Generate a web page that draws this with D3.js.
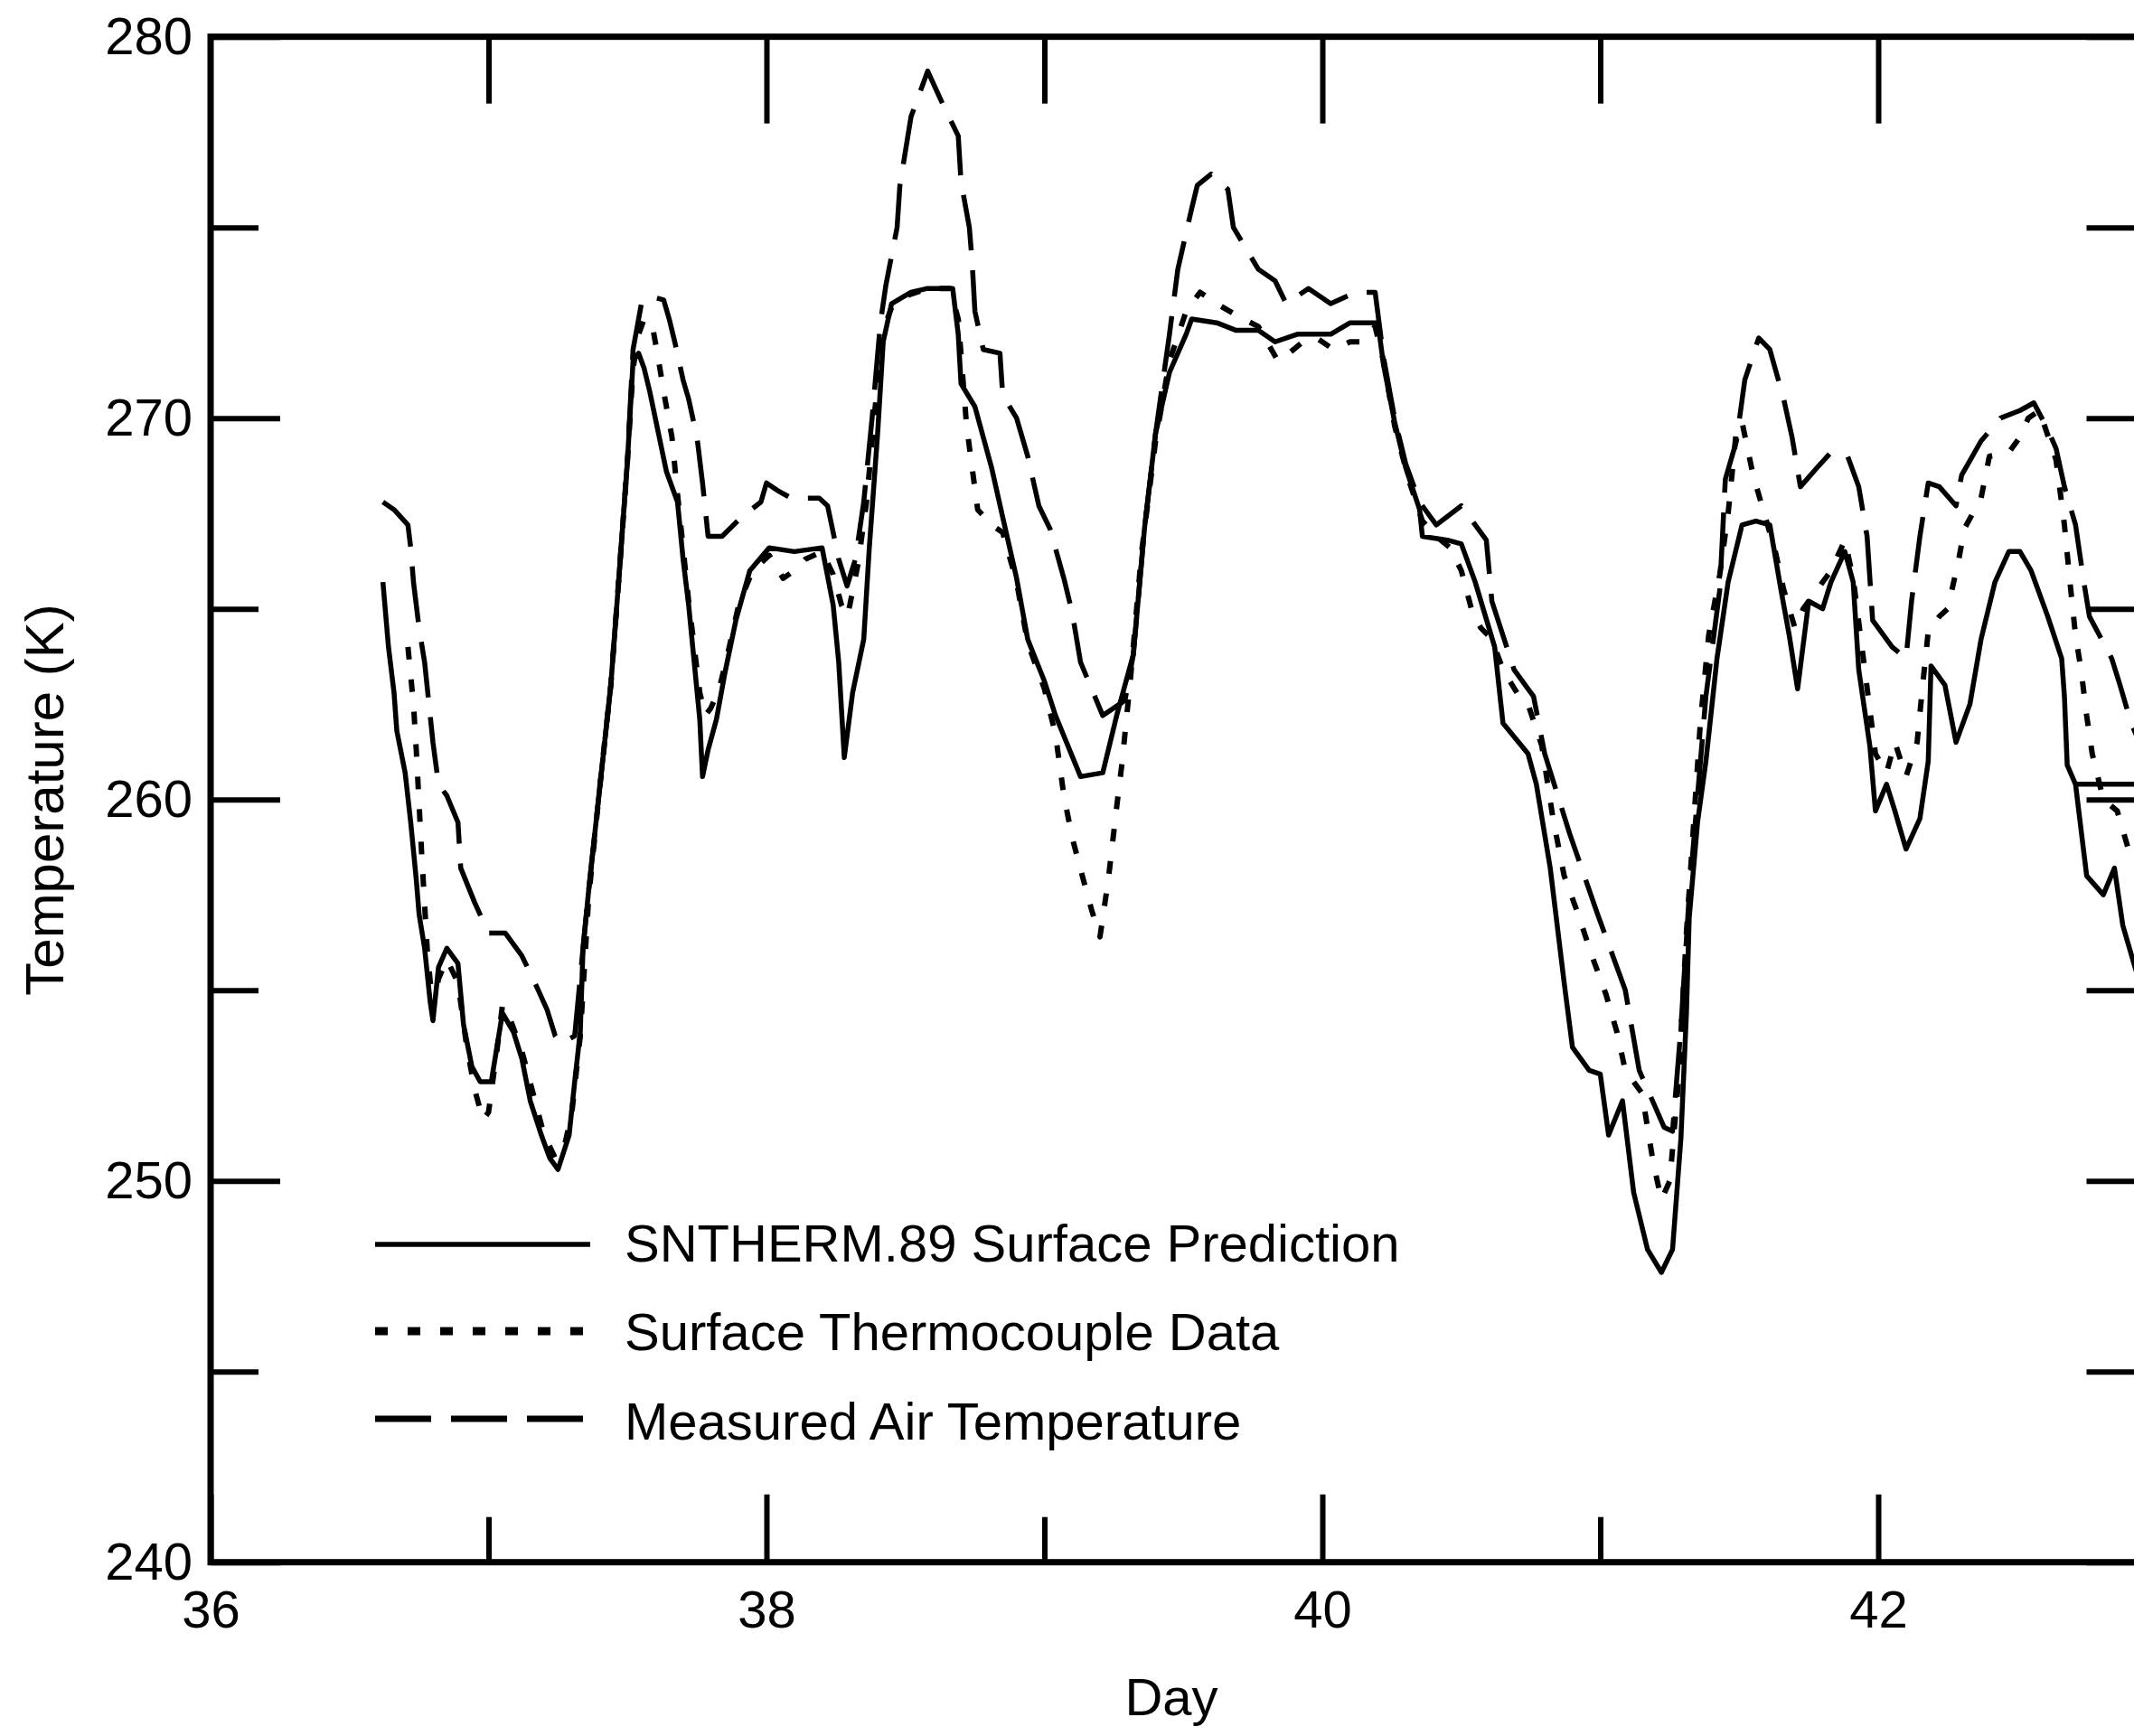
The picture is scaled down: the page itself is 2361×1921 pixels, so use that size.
<!DOCTYPE html>
<html>
<head>
<meta charset="utf-8">
<script src="https://cdn.jsdelivr.net/npm/d3@7"></script>
<style>
  html, body { margin: 0; padding: 0; background: #fff; }
  svg { display: block; }
  text { font-family: "Liberation Sans", Arial, Helvetica, sans-serif; fill: #000; }
</style>
</head>
<body>
<svg id="chart" width="2361" height="1921"></svg>
<script>
// ---------------- data (day, temperature K) ----------------
const snthermPrediction = [
  [36.62,265.7],[36.64,264.0],[36.66,262.8],[36.67,261.8],[36.70,260.7],[36.72,259.4],[36.74,257.9],[36.75,257.0],
  [36.77,256.1],[36.79,254.7],[36.80,254.2],[36.82,255.6],[36.85,256.1],[36.89,255.7],[36.91,254.1],[36.94,253.0],
  [36.97,252.6],[37.01,252.6],[37.03,253.5],[37.05,254.4],[37.09,253.9],[37.12,253.2],[37.15,252.1],[37.19,251.2],
  [37.22,250.6],[37.25,250.3],[37.29,251.2],[37.31,252.6],[37.33,253.9],[37.34,256.1],[37.36,257.6],[37.40,260.3],
  [37.44,263.0],[37.47,265.9],[37.50,268.9],[37.52,271.5],[37.54,271.7],[37.56,271.3],[37.58,270.7],[37.64,268.6],
  [37.68,267.8],[37.70,266.3],[37.72,265.1],[37.74,263.6],[37.76,262.1],[37.77,260.6],[37.79,261.3],[37.82,262.1],
  [37.85,263.3],[37.89,264.7],[37.94,266.0],[38.01,266.6],[38.10,266.5],[38.20,266.6],[38.24,265.1],[38.26,263.6],
  [38.28,261.1],[38.31,262.8],[38.35,264.2],[38.37,266.6],[38.40,269.6],[38.42,272.0],[38.45,273.0],[38.52,273.3],
  [38.58,273.4],[38.67,273.4],[38.69,272.2],[38.70,270.9],[38.75,270.3],[38.81,268.7],[38.85,267.4],[38.90,265.8],
  [38.94,264.2],[39.00,263.1],[39.04,262.2],[39.13,260.6],[39.21,260.7],[39.26,262.2],[39.32,263.8],[39.36,267.1],
  [39.40,269.6],[39.45,271.2],[39.51,272.2],[39.53,272.6],[39.62,272.5],[39.69,272.3],[39.77,272.3],[39.83,272.0],
  [39.91,272.2],[40.03,272.2],[40.10,272.5],[40.20,272.5],[40.22,271.4],[40.26,269.9],[40.30,268.7],[40.35,267.6],
  [40.36,266.9],[40.45,266.8],[40.50,266.7],[40.55,265.7],[40.62,264.0],[40.65,262.0],[40.74,261.2],[40.77,260.4],
  [40.82,258.2],[40.87,255.2],[40.90,253.5],[40.96,252.9],[41.00,252.8],[41.03,251.2],[41.08,252.1],[41.12,249.7],
  [41.17,248.2],[41.22,247.6],[41.26,248.2],[41.29,251.1],[41.31,254.4],[41.32,256.9],[41.35,259.4],[41.38,261.0],
  [41.42,263.7],[41.46,265.7],[41.51,267.2],[41.56,267.3],[41.61,267.2],[41.65,265.5],[41.68,264.3],[41.71,262.9],
  [41.75,265.2],[41.80,265.0],[41.83,265.7],[41.88,266.5],[41.91,265.7],[41.93,263.4],[41.97,261.4],[41.99,259.7],
  [42.03,260.4],[42.06,259.7],[42.10,258.7],[42.15,259.5],[42.18,261.0],[42.19,263.5],[42.24,263.0],[42.28,261.5],
  [42.33,262.5],[42.37,264.2],[42.42,265.7],[42.47,266.5],[42.51,266.5],[42.55,266.0],[42.61,264.8],[42.66,263.7],
  [42.67,262.7],[42.68,260.9],[42.71,260.4],[42.75,258.0],[42.81,257.5],[42.85,258.2],[42.88,256.7],[42.92,255.7],
  [42.97,254.5]
];

const thermocoupleData = [
  [36.71,264.0],[36.73,262.5],[36.74,261.3],[36.76,258.5],[36.78,256.0],[36.80,254.5],[36.82,255.3],[36.85,255.8],
  [36.89,255.2],[36.92,253.6],[36.95,252.4],[36.98,251.6],[37.00,251.8],[37.03,253.4],[37.05,254.6],[37.08,254.2],
  [37.12,253.4],[37.16,252.3],[37.20,251.2],[37.24,250.6],[37.27,250.8],[37.30,251.8],[37.33,253.8],[37.36,257.4],
  [37.40,260.3],[37.44,263.0],[37.47,265.9],[37.50,268.9],[37.52,271.3],[37.54,272.2],[37.56,272.6],[37.59,272.4],
  [37.61,271.6],[37.63,270.7],[37.66,269.5],[37.68,268.0],[37.70,266.6],[37.72,265.2],[37.74,264.0],[37.76,262.8],
  [37.78,262.2],[37.80,262.4],[37.83,262.9],[37.86,263.8],[37.90,265.1],[37.95,266.0],[38.01,266.4],[38.06,265.8],
  [38.10,266.0],[38.14,266.3],[38.20,266.5],[38.24,265.9],[38.27,265.1],[38.29,264.8],[38.30,265.1],[38.33,266.2],
  [38.36,267.8],[38.39,270.2],[38.42,272.3],[38.45,272.9],[38.50,273.2],[38.58,273.4],[38.66,273.4],[38.69,272.6],
  [38.72,269.8],[38.74,268.7],[38.76,267.6],[38.81,267.2],[38.85,267.0],[38.90,265.7],[38.94,264.1],[39.00,262.9],
  [39.04,261.7],[39.07,260.1],[39.10,259.0],[39.14,257.9],[39.17,257.1],[39.20,256.4],[39.23,257.9],[39.26,259.8],
  [39.28,261.0],[39.31,263.2],[39.35,266.5],[39.40,269.4],[39.45,271.5],[39.51,272.8],[39.56,273.3],[39.62,273.0],
  [39.69,272.7],[39.77,272.4],[39.84,271.5],[39.88,271.7],[39.93,272.0],[39.98,272.1],[40.04,271.8],[40.10,272.0],
  [40.14,272.0],[40.19,272.4],[40.22,271.5],[40.26,269.8],[40.31,268.4],[40.36,267.3],[40.41,266.9],[40.46,266.6],
  [40.50,266.0],[40.54,264.9],[40.57,264.5],[40.61,264.2],[40.65,263.4],[40.70,262.8],[40.74,262.5],[40.79,261.4],
  [40.83,259.5],[40.87,258.0],[40.92,257.0],[40.97,255.9],[41.02,254.9],[41.06,253.9],[41.09,252.9],[41.15,252.3],
  [41.19,250.5],[41.22,249.5],[41.25,250.0],[41.28,252.5],[41.31,256.5],[41.36,262.0],[41.39,264.3],[41.43,265.9],
  [41.46,267.5],[41.49,269.7],[41.51,269.9],[41.55,268.5],[41.59,267.5],[41.63,266.5],[41.66,265.5],[41.70,264.5],
  [41.73,265.0],[41.78,265.5],[41.83,266.0],[41.88,266.8],[41.91,265.8],[41.95,263.5],[41.99,261.2],[42.03,260.7],
  [42.06,261.5],[42.10,260.6],[42.14,261.5],[42.16,263.0],[42.18,264.4],[42.22,264.8],[42.25,265.0],[42.29,266.3],
  [42.31,267.1],[42.37,267.9],[42.40,269.0],[42.47,269.1],[42.51,269.5],[42.54,270.0],[42.58,270.2],[42.64,268.9],
  [42.67,267.2],[42.69,265.7],[42.71,264.3],[42.73,263.4],[42.75,262.2],[42.77,261.2],[42.81,260.0],[42.86,259.7],
  [42.90,258.7],[42.97,257.8]
];

const airTemperature = [
  [36.62,267.8],[36.66,267.6],[36.71,267.2],[36.72,266.6],[36.73,265.7],[36.75,264.5],[36.77,263.6],[36.79,262.2],
  [36.80,261.5],[36.82,260.4],[36.85,260.1],[36.89,259.4],[36.90,258.2],[36.95,257.3],[37.00,256.5],[37.06,256.5],
  [37.12,255.9],[37.16,255.3],[37.21,254.5],[37.24,253.8],[37.26,253.6],[37.31,253.8],[37.34,256.1],[37.36,257.6],
  [37.40,260.3],[37.44,263.0],[37.47,265.9],[37.50,268.9],[37.52,271.8],[37.55,273.0],[37.58,273.2],[37.63,273.1],
  [37.65,272.6],[37.67,272.0],[37.70,271.0],[37.72,270.5],[37.75,269.5],[37.77,268.3],[37.79,266.9],[37.84,266.9],
  [37.91,267.4],[37.98,267.8],[38.00,268.3],[38.04,268.1],[38.09,267.9],[38.19,267.9],[38.22,267.7],[38.26,266.3],
  [38.29,265.6],[38.32,266.3],[38.35,267.8],[38.38,270.0],[38.41,272.5],[38.43,273.5],[38.47,275.0],[38.48,276.1],
  [38.52,277.9],[38.58,279.1],[38.63,278.3],[38.69,277.4],[38.70,276.2],[38.73,275.0],[38.74,274.1],[38.75,272.8],
  [38.78,271.8],[38.84,271.7],[38.85,270.6],[38.90,270.0],[38.94,269.0],[38.98,267.7],[39.02,267.1],[39.07,265.8],
  [39.10,264.9],[39.13,263.6],[39.17,262.9],[39.21,262.2],[39.29,262.6],[39.32,263.8],[39.36,267.1],[39.40,269.6],
  [39.45,272.2],[39.48,273.9],[39.53,275.5],[39.55,276.1],[39.60,276.4],[39.66,276.0],[39.68,275.0],[39.77,273.9],
  [39.83,273.6],[39.87,273.0],[39.95,273.4],[40.03,273.0],[40.12,273.3],[40.19,273.3],[40.22,271.6],[40.26,270.0],
  [40.30,268.8],[40.35,267.8],[40.41,267.2],[40.50,267.7],[40.59,266.8],[40.61,265.2],[40.69,263.4],[40.76,262.7],
  [40.80,261.2],[40.89,259.1],[40.99,257.0],[41.09,255.0],[41.14,252.9],[41.23,251.4],[41.26,251.3],[41.29,254.0],
  [41.32,257.5],[41.38,262.7],[41.43,265.5],[41.45,268.4],[41.49,269.4],[41.52,271.0],[41.57,272.1],[41.61,271.8],
  [41.66,270.5],[41.69,269.5],[41.72,268.2],[41.78,268.7],[41.83,269.1],[41.89,269.0],[41.93,268.2],[41.96,266.9],
  [41.98,264.7],[42.05,264.0],[42.10,263.7],[42.12,265.2],[42.15,266.9],[42.18,268.3],[42.22,268.2],[42.28,267.7],
  [42.30,268.5],[42.37,269.4],[42.44,270.0],[42.51,270.2],[42.56,270.4],[42.61,269.7],[42.64,269.2],[42.67,268.2],
  [42.71,267.2],[42.74,265.7],[42.76,264.8],[42.84,263.7],[42.87,263.0],[42.91,262.0],[42.97,261.0]
];

// short flat segment drawn solid near the right edge
const flatSegment = [[42.71,260.4],[42.97,260.4]];

const xMajorTicks = [36, 38, 40, 42];
const xMinorTicks = [37, 39, 41];
const yMajorTicks = [240, 250, 260, 270, 280];
const yMinorTicks = [245, 255, 265, 275];

const legendLabels = ["SNTHERM.89 Surface Prediction", "Surface Thermocouple Data", "Measured Air Temperature"];

// ---------------- drawing ----------------
(function () {
const svg = d3.select("#chart");
svg.append("rect").attr("width", 2361).attr("height", 1921).attr("fill", "#fff");

const pLeft = 233, pRight = 2385.5, pTop = 40.65, pBottom = 1728.7;
const x = d3.scaleLinear().domain([36, 43]).range([pLeft, pRight]);
const y = d3.scaleLinear().domain([240, 280]).range([pBottom, pTop]);

const FONT = 58;
const dottedDash = "14,22";
const dashedDash = "62,22";

function styleAxis(g, showText) {
  g.select(".domain").remove();
  g.selectAll(".tick line").attr("stroke", "#000").attr("stroke-width", 6);
  g.selectAll(".tick text").attr("font-size", FONT)
    .attr("font-family", "Liberation Sans, Arial, sans-serif").attr("fill", "#000");
  if (!showText) g.selectAll(".tick text").remove();
}

// bottom axis
svg.append("g").attr("transform", `translate(0,${pBottom})`)
  .call(d3.axisBottom(x).tickValues(xMajorTicks).tickSize(-75).tickPadding(31).tickFormat(d3.format("d")))
  .call(g => styleAxis(g, true));
svg.append("g").attr("transform", `translate(0,${pBottom})`)
  .call(d3.axisBottom(x).tickValues(xMinorTicks).tickSize(-50))
  .call(g => styleAxis(g, false));
// top axis
svg.append("g").attr("transform", `translate(0,${pTop})`)
  .call(d3.axisTop(x).tickValues(xMajorTicks.slice(1)).tickSize(-96))
  .call(g => styleAxis(g, false));
svg.append("g").attr("transform", `translate(0,${pTop})`)
  .call(d3.axisTop(x).tickValues(xMinorTicks).tickSize(-74))
  .call(g => styleAxis(g, false));
// left axis
svg.append("g").attr("transform", `translate(${pLeft},0)`)
  .call(d3.axisLeft(y).tickValues(yMajorTicks).tickSize(-77).tickPadding(20).tickFormat(d3.format("d")))
  .call(g => styleAxis(g, true));
svg.append("g").attr("transform", `translate(${pLeft},0)`)
  .call(d3.axisLeft(y).tickValues(yMinorTicks).tickSize(-53))
  .call(g => styleAxis(g, false));
// right axis
svg.append("g").attr("transform", `translate(${pRight},0)`)
  .call(d3.axisRight(y).tickValues(yMajorTicks.concat(yMinorTicks)).tickSize(-77))
  .call(g => styleAxis(g, false));

// frame
svg.append("rect")
  .attr("x", pLeft).attr("y", pTop)
  .attr("width", pRight - pLeft).attr("height", pBottom - pTop)
  .attr("fill", "none").attr("stroke", "#000").attr("stroke-width", 7);

// axis titles
svg.append("text")
  .attr("x", 1296).attr("y", 1898)
  .attr("text-anchor", "middle").attr("font-size", FONT)
  .text("Day");
svg.append("text")
  .attr("transform", `translate(70,885) rotate(-90)`)
  .attr("text-anchor", "middle").attr("font-size", 60)
  .text("Temperature (K)");

// lines
const line = d3.line().x(d => x(d[0])).y(d => y(d[1]));
const plot = svg.append("g")
  .attr("fill", "none").attr("stroke", "#000")
  .attr("stroke-linejoin", "round");

plot.append("path").datum(airTemperature)
  .attr("d", line).attr("stroke-width", 5.5).attr("stroke-dasharray", dashedDash);
plot.append("path").datum(thermocoupleData)
  .attr("d", line).attr("stroke-width", 6).attr("stroke-dasharray", dottedDash);
plot.append("path").datum(snthermPrediction)
  .attr("d", line).attr("stroke-width", 5.5);
plot.append("path").datum(flatSegment)
  .attr("d", line).attr("stroke-width", 5.5);

// legend
const legendStyles = [
  { dash: null, width: 5.5 },
  { dash: dottedDash, width: 9 },
  { dash: dashedDash, width: 7 }
];
const legendSampleY = [1377, 1473, 1570];
const legendTextY = [1396, 1494, 1593];
const lg = svg.append("g");
legendLabels.forEach((lab, i) => {
  lg.append("line")
    .attr("x1", 415).attr("x2", 653)
    .attr("y1", legendSampleY[i]).attr("y2", legendSampleY[i])
    .attr("stroke", "#000").attr("stroke-width", legendStyles[i].width)
    .attr("stroke-dasharray", legendStyles[i].dash);
  lg.append("text")
    .attr("x", 691).attr("y", legendTextY[i])
    .attr("font-size", FONT)
    .text(lab);
});
})();
</script>
</body>
</html>
